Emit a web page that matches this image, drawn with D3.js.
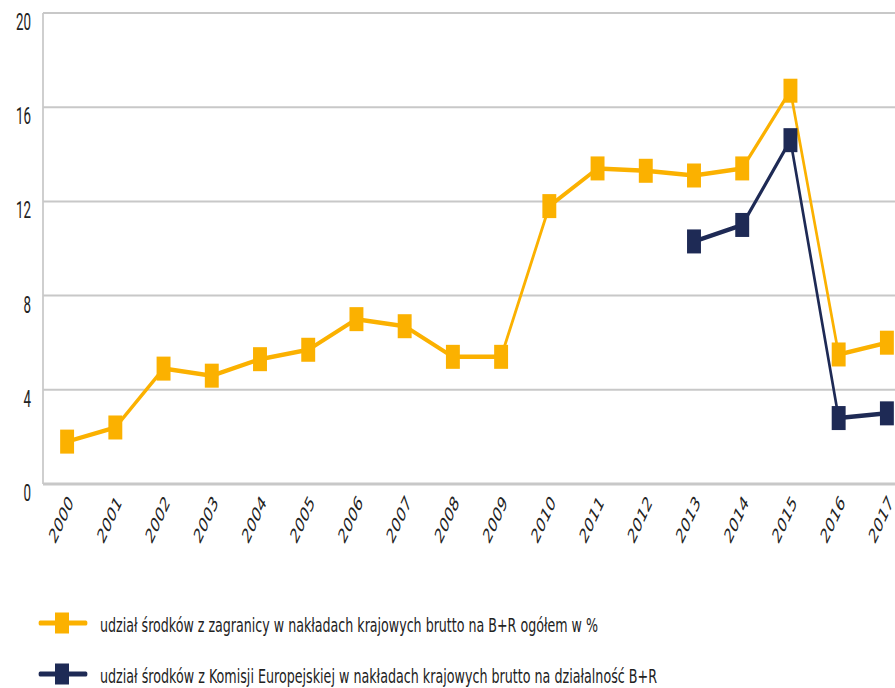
<!DOCTYPE html>
<html><head><meta charset="utf-8">
<script src="https://cdn.jsdelivr.net/npm/d3@7"></script>
<style>
body{margin:0;background:#fff;}
text{fill:#222;}
</style></head>
<body><svg id="c" width="895" height="688"></svg>
<script>
const years = ["2000","2001","2002","2003","2004","2005","2006","2007","2008","2009","2010","2011","2012","2013","2014","2015","2016","2017"];
const foreignShare = [1.8,2.4,4.9,4.6,5.3,5.7,7.0,6.7,5.4,5.4,11.8,13.4,13.3,13.1,13.4,16.7,5.5,6.0];
const ecShare = [null,null,null,null,null,null,null,null,null,null,null,null,null,10.3,11.0,14.6,2.8,3.0];
const yTicks = [0,4,8,12,16,20];
const seriesNames = ["udział środków z zagranicy w nakładach krajowych brutto na B+R ogółem  w %",
  "udział środków z Komisji Europejskiej w nakładach krajowych brutto na działalność B+R"];
const colors = ["#FBB100","#1E2A55"];

const svg = d3.select("#c");
const W = 895;
const sx = 0.58; // whole chart is squeezed horizontally
const X = px => px / sx;
const plotLeft = 43, plotTop = 13, plotBottom = 484;
const x = d3.scalePoint().domain(years).range([X(plotLeft), X(911)]).padding(0.5);
const y = d3.scaleLinear().domain([0,20]).range([plotBottom, plotTop]);

const g = svg.append("g").attr("transform", `scale(${sx},1)`);

// grid
g.append("g").selectAll("line").data(yTicks).join("line")
  .attr("x1", X(plotLeft)).attr("x2", X(W)).attr("y1", d=>y(d)).attr("y2", d=>y(d))
  .attr("stroke", "#c8c8c8").attr("stroke-width", d=>d===0?3:2);
g.append("line").attr("x1", X(plotLeft)).attr("x2", X(plotLeft)).attr("y1", y(20)).attr("y2", y(0))
  .attr("stroke","#c8c8c8").attr("stroke-width",3);

// y labels (hang below gridline)
g.append("g").selectAll("text").data(yTicks).join("text")
  .attr("x", X(31)).attr("y", d=>y(d)+17)
  .attr("text-anchor","end").attr("font-size",23).attr("font-family","Roboto, sans-serif").text(d=>d);

// x labels
g.append("g").selectAll("text").data(years).join("text")
  .attr("transform", d=>`translate(${x(d)+X(7)},${plotBottom+19}) rotate(-52)`)
  .attr("text-anchor","end").attr("font-size",21).attr("font-family","DejaVu Sans, sans-serif")
  .text(d=>d);

// series
const series = [foreignShare, ecShare];
series.forEach((vals, i) => {
  const pts = years.map((yr, j) => ({yr, v: vals[j]})).filter(p => p.v != null);
  const line = d3.line().x(p => x(p.yr)).y(p => y(p.v));
  g.append("path").datum(pts).attr("d", line).attr("fill","none")
    .attr("stroke", colors[i]).attr("stroke-width", 4.5).attr("stroke-linejoin","round");
  g.append("g").selectAll("rect").data(pts).join("rect")
    .attr("x", p => x(p.yr) - 12).attr("y", p => y(p.v) - 12)
    .attr("width", 24).attr("height", 24).attr("fill", colors[i]);
});

// legend
const legY = [623, 674];
const legW = [498, 557];
seriesNames.forEach((name, i) => {
  const lg = g.append("g");
  lg.append("line").attr("x1",X(40)).attr("x2",X(86)).attr("y1",legY[i]).attr("y2",legY[i])
    .attr("stroke",colors[i]).attr("stroke-width",5).attr("stroke-linecap","round");
  lg.append("rect").attr("x",X(55)).attr("y",legY[i]-10.5).attr("width",X(14)).attr("height",21).attr("fill",colors[i]);
  lg.append("text").attr("x",X(100)).attr("y",legY[i]+9).attr("font-size",20)
    .attr("font-family","DejaVu Sans, sans-serif")
    .attr("textLength", X(legW[i])).attr("lengthAdjust","spacingAndGlyphs").text(name);
});
</script></body></html>
